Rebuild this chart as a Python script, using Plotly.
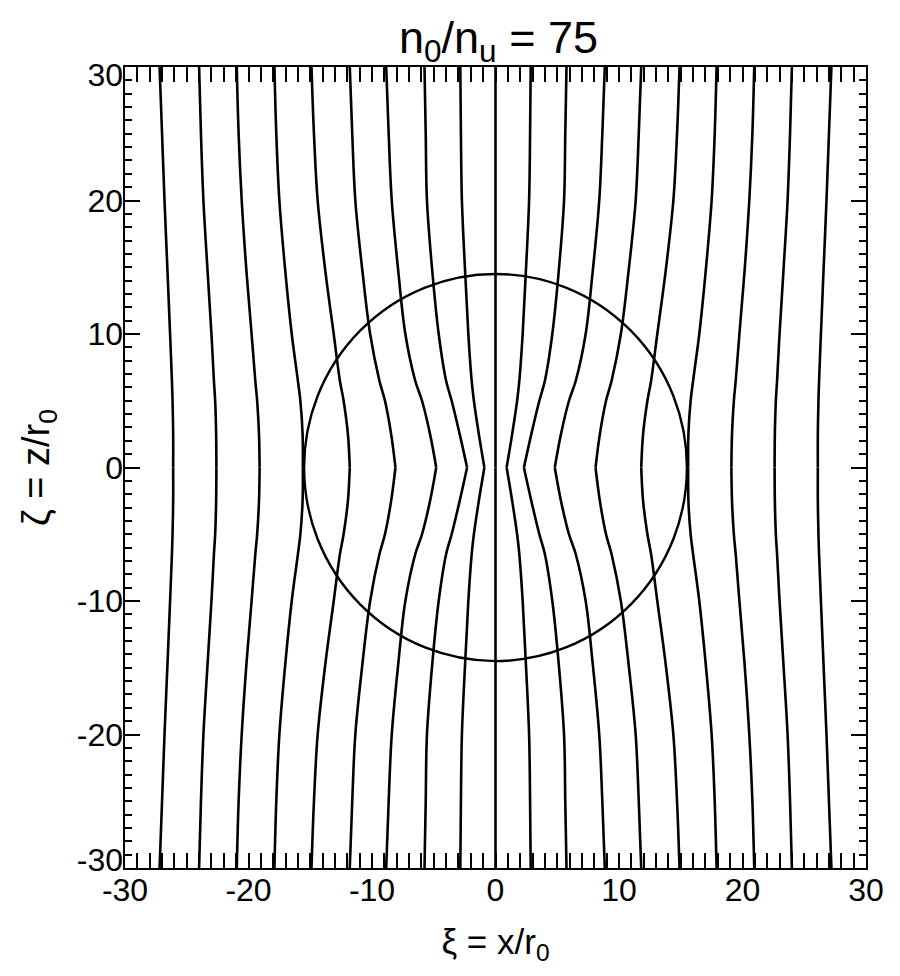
import plotly.graph_objects as go

# Heights (z/r0) at which field-line positions were read (upper half; lower half mirrors)
z_levels = [30, 25, 20, 14.5, 10, 6.5, 5, 2.5, 0]

# x/r0 positions of the left-half field lines at each z level (outer -> inner)
line1 = [-27.2, -27.0, -26.8, -26.55, -26.35, -26.2, -26.15, -26.1, -26.1]
line2 = [-24.0, -23.85, -23.65, -23.3, -23.0, -22.8, -22.7, -22.62, -22.6]
line3 = [-20.95, -20.8, -20.55, -20.15, -19.75, -19.45, -19.3, -19.15, -19.1]
line4 = [-17.9, -17.75, -17.5, -17.0, -16.5, -16.0, -15.8, -15.62, -15.6]
line5 = [-14.9, -14.7, -14.4, -13.75, -13.1, -12.6, -12.3, -11.95, -11.8]
line6 = [-11.8, -11.6, -11.35, -10.75, -10.15, -9.4, -8.95, -8.45, -8.1]
line7 = [-8.85, -8.65, -8.4, -7.85, -7.3, -6.5, -5.95, -5.3, -4.8]
line8 = [-5.75, -5.65, -5.55, -5.1, -4.6, -4.0, -3.55, -2.9, -2.3]
line9 = [-2.85, -2.8, -2.72, -2.45, -2.2, -1.93, -1.75, -1.35, -0.9]
center_line = [0, 0, 0, 0, 0, 0, 0, 0, 0]

# Boundary of the dense region (semi-axes in data units)
region_rx = 15.5
region_rz = 14.5

tick_vals = [-30, -20, -10, 0, 10, 20, 30]
tick_text = ["-30", "-20", "-10", "0", "10", "20", "30"]
# The y labels for the end values sit slightly inside the axis ends (as in the original)
ylabel_vals = [-29.4, -20, -10, 0, 10, 20, 29.4]

left_lines = [line1, line2, line3, line4, line5, line6, line7, line8, line9]

fig = go.Figure()
LINE = dict(color="black", width=2.6, shape="spline", smoothing=1.0)

def add_line(xs):
    # upper half
    fig.add_trace(go.Scatter(x=xs, y=z_levels, mode="lines", line=LINE,
                             showlegend=False, hoverinfo="skip"))
    # lower half (mirror in z)
    fig.add_trace(go.Scatter(x=xs[::-1], y=[-z for z in z_levels[::-1]],
                             mode="lines", line=LINE,
                             showlegend=False, hoverinfo="skip"))

for ln in left_lines:
    add_line(ln)
    add_line([-v for v in ln])
add_line(center_line)

# invisible trace to anchor the label-only y axis
fig.add_trace(go.Scatter(x=[0], y=[0], yaxis="y2", mode="markers",
                         marker=dict(opacity=0), showlegend=False, hoverinfo="skip"))

fig.add_shape(type="circle", xref="x", yref="y",
              x0=-region_rx, x1=region_rx, y0=-region_rz, y1=region_rz,
              line=dict(color="black", width=2.4), layer="above")

FAM = "Liberation Sans, Arial, Helvetica, sans-serif"
TICKFONT = dict(family=FAM, size=32, color="black")

axis_common = dict(
    range=[-30, 30], tickvals=tick_vals,
    ticks="inside", ticklen=15, tickwidth=1.8, tickcolor="black",
    showline=True, linecolor="black", linewidth=2.2, mirror="allticks",
    showgrid=False, zeroline=False, tickfont=TICKFONT,
    minor=dict(dtick=1, ticks="inside", ticklen=7, tickwidth=1.6,
               tickcolor="black", showgrid=False),
)

fig.update_layout(
    width=900, height=976,
    margin=dict(l=117, r=42, t=59, b=116),
    paper_bgcolor="white", plot_bgcolor="white",
    title=dict(text="n<sub>0</sub>/n<sub>u</sub> = 75", x=0.545, xanchor="center",
               y=0.970, yanchor="middle",
               font=dict(family=FAM, size=45, color="black")),
    xaxis=dict(**axis_common, ticktext=tick_text,
               title=dict(text="ξ = x/r<sub>0</sub>", font=dict(family=FAM, size=35, color="black"),
                          standoff=23),
               ticklabelstandoff=-8),
    yaxis=dict(**axis_common, showticklabels=False,
               title=dict(text="ζ = z/r<sub>0</sub>", font=dict(family=FAM, size=38, color="black"),
                          standoff=62)),
    yaxis2=dict(range=[-30, 30], overlaying="y", side="left", anchor="x",
                tickvals=ylabel_vals, ticktext=tick_text, ticks="",
                showline=False, showgrid=False, zeroline=False,
                tickfont=TICKFONT, ticklabelstandoff=1),
)

fig.write_html("out.html")
